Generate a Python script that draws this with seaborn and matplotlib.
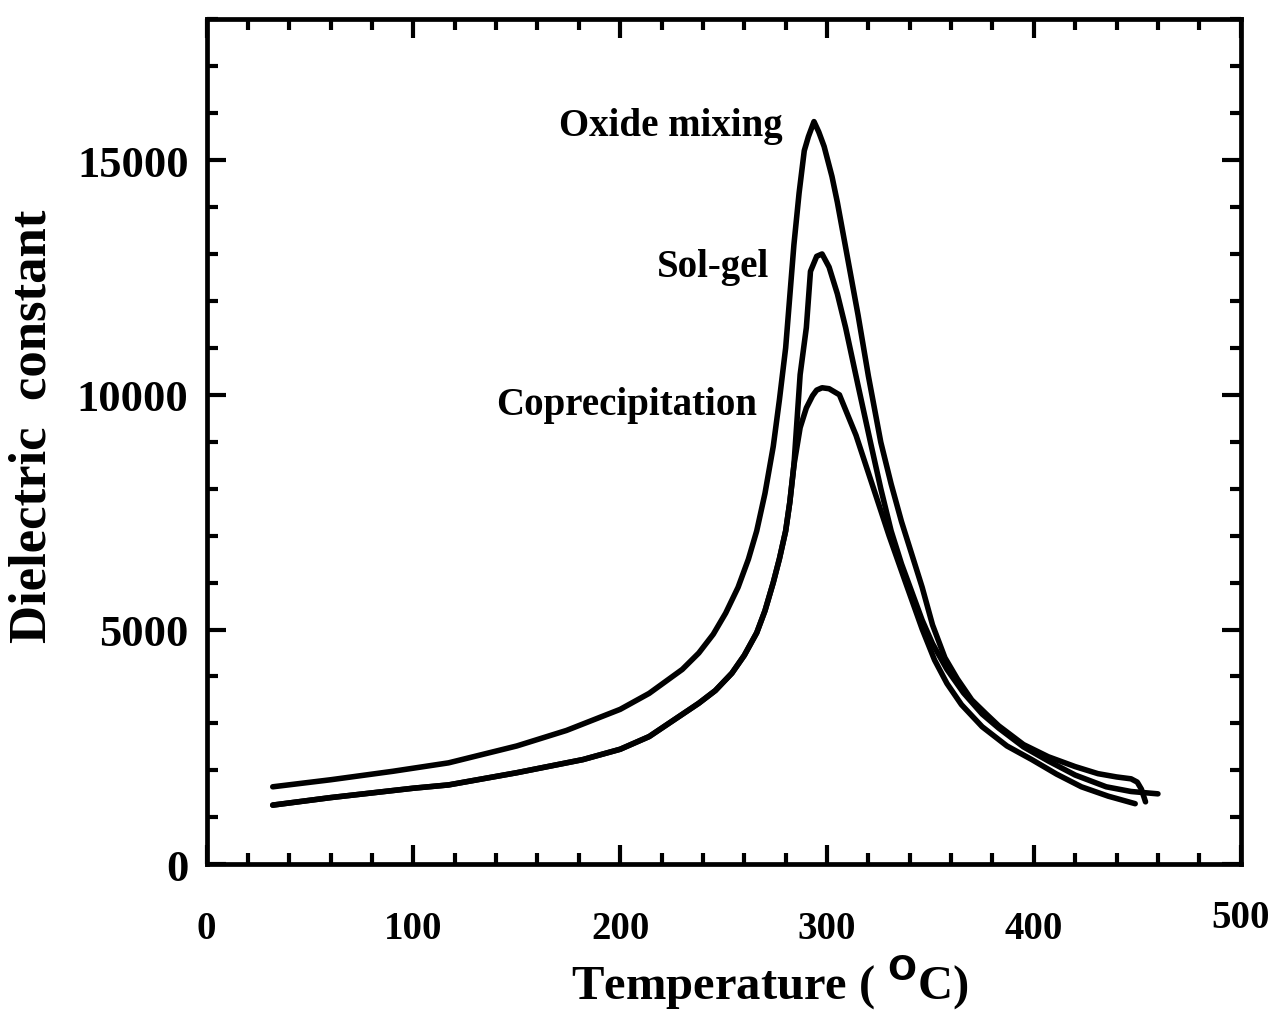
import numpy as np
import pandas as pd
import matplotlib
matplotlib.use("Agg")
import matplotlib.pyplot as plt
from matplotlib.ticker import MultipleLocator
from matplotlib.transforms import ScaledTranslation
import seaborn as sns

# ---- data ----
oxide_T = [32, 60, 90, 117, 150, 174, 200, 214, 230, 238, 245, 251, 257, 262, 266, 270,
           274, 277, 280, 282, 284, 286.5, 289, 291, 293.7, 296, 298.6, 302.4, 305, 310,
           315, 320, 326, 331, 336, 341, 346, 351, 357, 363, 370, 377, 383, 395, 407,
           420, 431, 440, 447, 450, 452, 454]
oxide_eps = [1650, 1800, 1980, 2160, 2520, 2850, 3300, 3640, 4150, 4500, 4900, 5350, 5900, 6500, 7100, 7900,
             8900, 9900, 11000, 12100, 13200, 14300, 15200, 15500, 15820, 15600, 15290, 14650, 14100, 12900,
             11700, 10400, 8990, 8100, 7300, 6600, 5900, 5100, 4400, 3950, 3500, 3200, 2950, 2550, 2290,
             2080, 1930, 1860, 1820, 1750, 1600, 1330]

solgel_T = [32, 60, 100, 117, 150, 182, 200, 214, 238, 246, 254, 260, 266, 270, 274, 277, 280,
            282, 284, 287, 290, 292, 295, 297.6, 301, 305, 309, 315, 321, 326, 331, 336, 341,
            346, 351, 358, 366, 375, 383, 395, 407, 420, 435, 447, 460]
solgel_eps = [1260, 1420, 1620, 1690, 1950, 2230, 2450, 2720, 3430, 3700, 4070, 4450, 4930, 5400, 6000, 6510, 7100,
              7710, 8500, 10430, 11430, 12630, 12950, 13000, 12720, 12150, 11430, 10200, 8990, 8000, 7100, 6400, 5800,
              5200, 4700, 4150, 3650, 3200, 2900, 2500, 2200, 1900, 1650, 1550, 1500]

coprec_T = [32, 60, 100, 117, 150, 182, 200, 214, 238, 246, 254, 260, 266, 270, 274, 277, 280,
            282, 284, 287, 290, 293, 295, 297.6, 301, 306, 314, 322, 330, 338, 346, 352,
            358, 365, 375, 387, 399, 411, 423, 436, 449]
coprec_eps = [1260, 1420, 1620, 1690, 1950, 2230, 2450, 2720, 3430, 3700, 4070, 4450, 4930, 5400, 6000, 6510, 7100,
              7710, 8500, 9300, 9720, 9980, 10100, 10150, 10130, 10000, 9140, 8070, 7000, 6000, 5010, 4350,
              3850, 3400, 2930, 2520, 2230, 1920, 1650, 1450, 1290]

series_names = ["Oxide mixing", "Sol-gel", "Coprecipitation"]

x_ticks = [0, 100, 200, 300, 400, 500]
y_ticks = [0, 5000, 10000, 15000]

# ---- build long-form table ----
frames = []
for name, T, E in zip(series_names, [oxide_T, solgel_T, coprec_T],
                      [oxide_eps, solgel_eps, coprec_eps]):
    frames.append(pd.DataFrame({"T": T, "eps": E, "method": name}))
df = pd.concat(frames, ignore_index=True)

sns.set_theme(style="ticks")
plt.rcParams['font.family'] = ['Liberation Serif', 'DejaVu Serif']
plt.rcParams['font.weight'] = 'bold'
for k in ['text.color', 'axes.labelcolor', 'xtick.color', 'ytick.color', 'axes.edgecolor']:
    plt.rcParams[k] = 'black'

fig = plt.figure(figsize=(12.83, 10.12), dpi=100)
ax = fig.add_axes([0.161, 0.145, 0.806, 0.835])

sns.lineplot(data=df, x="T", y="eps", hue="method", units="method", estimator=None,
             sort=False, palette={n: "black" for n in series_names}, linewidth=4.0,
             legend=False, ax=ax)

ax.set_xlim(0, 500)
ax.set_ylim(0, 18000)
ax.xaxis.set_minor_locator(MultipleLocator(20))
ax.yaxis.set_minor_locator(MultipleLocator(1000))
ax.set_xticks(x_ticks)
ax.set_yticks(y_ticks)
ax.set_xticklabels([str(v) for v in x_ticks])
ax.set_yticklabels([str(v) for v in y_ticks])

for s in ax.spines.values():
    s.set_linewidth(3.4)
    s.set_color("black")

ax.tick_params(which="both", direction="in", top=True, right=True, color="black")
ax.tick_params(which="major", length=14, width=3)
ax.tick_params(which="minor", length=8, width=3)
ax.tick_params(axis="x", which="major", pad=33, labelsize=28)
ax.tick_params(axis="y", which="major", pad=13, labelsize=32)
for lab in ax.get_xticklabels() + ax.get_yticklabels():
    lab.set_fontweight("bold")
# the "500" label sits a bit higher in the reference
lab500 = ax.get_xticklabels()[-1]
lab500.set_transform(lab500.get_transform() + ScaledTranslation(0, 8 / 72, fig.dpi_scale_trans))

ax.set_xlabel(r"Temperature ( $^{\mathbf{O}}$C)", fontsize=35, fontweight="bold")
ax.set_ylabel("Dielectric  constant", fontsize=38, fontweight="bold")
ax.xaxis.set_label_coords(0.545, -0.104)
ax.yaxis.set_label_coords(-0.145, 0.52)

ax.text(224.5, 15740, "Oxide mixing", fontsize=28, fontweight="bold", ha="center", va="center")
ax.text(245, 12740, "Sol-gel", fontsize=28, fontweight="bold", ha="center", va="center")
ax.text(203, 9790, "Coprecipitation", fontsize=28, fontweight="bold", ha="center", va="center")

fig.savefig("out.png", dpi=100, facecolor="white")
